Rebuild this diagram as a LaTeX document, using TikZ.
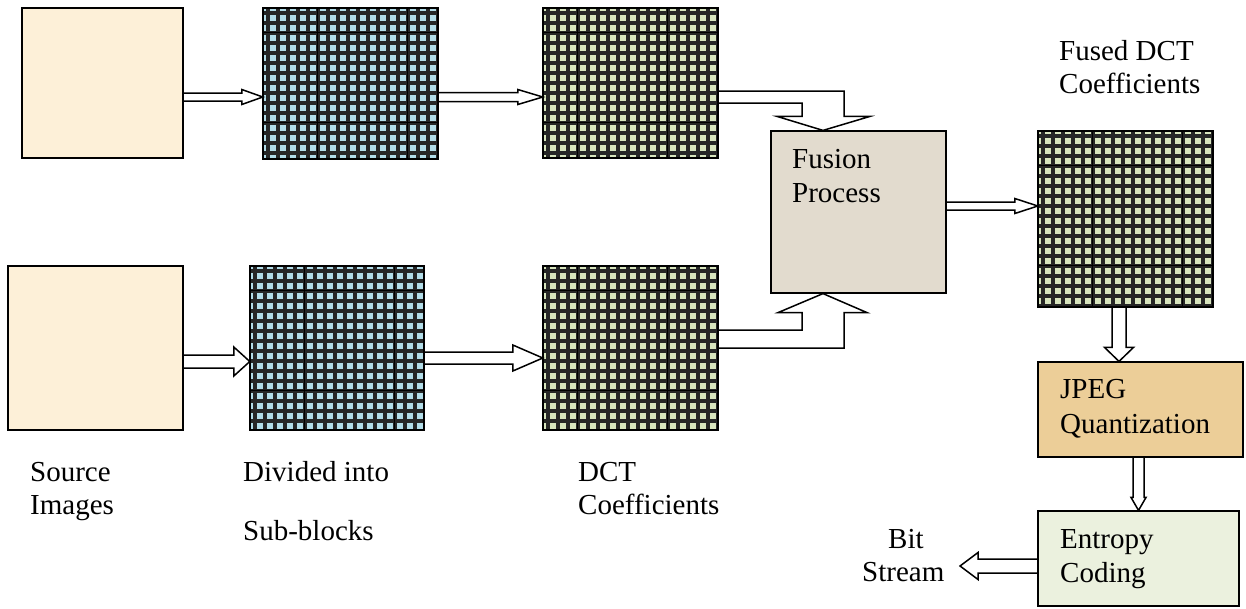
\documentclass[tikz,border=0pt]{standalone}
\usepackage{fontspec}
\setmainfont{Liberation Serif}
\usetikzlibrary{calc}
\definecolor{cream}{RGB}{253,240,216}
\definecolor{cellblue}{RGB}{178,220,232}
\definecolor{cellgreen}{RGB}{216,229,190}
\definecolor{fusefill}{RGB}{226,219,206}
\definecolor{jpegfill}{RGB}{236,206,152}
\definecolor{entfill}{RGB}{235,241,222}
\newcommand\gridlines[3]{%
  \begin{scope}
    \clip (#1.north west) rectangle (#1.south east);
    \foreach \i in {0,...,#2}
      \draw[gridline] ($(#1.north west)+(10*\i-5,0)$) -- ++(0,200);
    \foreach \i in {0,...,#3}
      \draw[gridline] ($(#1.north west)+(0,10*\i-5)$) -- ++(220,0);
  \end{scope}}
\newcommand\majorlines[5]{%
  \draw[majorline] ($(#1.north west)+(#2,0)$) -- ($(#1.south west)+(#2,0)$);
  \draw[majorline] ($(#1.north west)+(#3,0)$) -- ($(#1.south west)+(#3,0)$);
  \draw[majorline] ($(#1.north west)+(0,#4)$) -- ($(#1.north east)+(0,#4)$);
  \draw[majorline] ($(#1.north west)+(0,#5)$) -- ($(#1.north east)+(0,#5)$);
  \draw[boxline] (#1.north west) rectangle (#1.south east);}
\newcommand\harrowR[5]{%
  \draw[hollow] let \p1=(#1), \p2=(#2) in
    (\x1,\y1+#3) -- (\x2-#5,\y1+#3) -- (\x2-#5,\y1+#4) -- (\x2,\y1)
    -- (\x2-#5,\y1-#4) -- (\x2-#5,\y1-#3) -- (\x1,\y1-#3);}
\newcommand\harrowL[5]{%
  \draw[hollow] let \p1=(#1), \p2=(#2) in
    (\x1,\y1+#3) -- (\x2+#5,\y1+#3) -- (\x2+#5,\y1+#4) -- (\x2,\y1)
    -- (\x2+#5,\y1-#4) -- (\x2+#5,\y1-#3) -- (\x1,\y1-#3);}
\newcommand\harrowD[5]{%
  \draw[hollow] let \p1=(#1), \p2=(#2) in
    (\x1+#3,\y1) -- (\x1+#3,\y2+#5) -- (\x1+#4,\y2+#5) -- (\x1,\y2)
    -- (\x1-#4,\y2+#5) -- (\x1-#3,\y2+#5) -- (\x1-#3,\y1);}
\begin{document}
\begin{tikzpicture}[x=1pt,y=-1pt,
  box/.style={draw=black, line width=1.2pt, inner sep=0pt},
  gridbox/.style={inner sep=0pt},
  gridline/.style={draw=black!85, line width=4.5pt},
  majorline/.style={draw=black, line width=1.2pt},
  boxline/.style={draw=black, line width=1.8pt},
  hollow/.style={draw=black, line width=1.5pt, line join=miter},
  lbl/.style={inner sep=0pt, anchor=base west, font=\fontsize{29}{33}\selectfont}]
\useasboundingbox[fill=white] (0,0) rectangle (1246,608);

% source images
\node[box, fill=cream, minimum width=161pt, minimum height=150pt] (src1) at (102.5,83) {};
\node[box, fill=cream, minimum width=175pt, minimum height=164pt] (src2) at (95.5,348) {};

% sub-block grids
\node[gridbox, fill=cellblue, minimum width=175pt, minimum height=151pt] (blk1) at (350.5,83.5) {};
\gridlines{blk1}{19}{17}
\majorlines{blk1}{55}{145}{25}{115}
\node[gridbox, fill=cellblue, minimum width=174pt, minimum height=164pt] (blk2) at (337,348) {};
\gridlines{blk2}{19}{18}
\majorlines{blk2}{55}{145}{25}{125}

% DCT grids
\node[gridbox, fill=cellgreen, minimum width=175pt, minimum height=150pt] (dct1) at (630.5,83) {};
\gridlines{dct1}{19}{17}
\majorlines{dct1}{35}{125}{25}{115}
\node[gridbox, fill=cellgreen, minimum width=175pt, minimum height=164pt] (dct2) at (630.5,348) {};
\gridlines{dct2}{19}{18}
\majorlines{dct2}{35}{125}{25}{125}

% fusion
\node[box, fill=fusefill, minimum width=175pt, minimum height=162pt] (fusion) at (858.5,212) {};

% fused grid
\node[gridbox, fill=cellgreen, minimum width=175pt, minimum height=176pt] (fused) at (1125.5,219) {};
\gridlines{fused}{19}{19}
\majorlines{fused}{55}{145}{35}{135}

% JPEG and entropy
\node[box, fill=jpegfill, minimum width=205pt, minimum height=95pt] (jpeg) at (1140.5,409.5) {};
\node[box, fill=entfill, minimum width=201pt, minimum height=95pt] (entropy) at (1138.5,558.5) {};
\coordinate (bitend) at (960,566);

% arrows
\harrowR{[yshift=-14pt]src1.east}{blk1.west}{4pt}{7.5pt}{21pt}
\harrowR{[yshift=-13.5pt]src2.east}{blk2.west}{6.5pt}{14.5pt}{16pt}
\harrowR{[yshift=-13.5pt]blk1.east}{dct1.west}{4.5pt}{7.5pt}{25pt}
\harrowR{[yshift=-10pt]blk2.east}{dct2.west}{6pt}{13pt}{30pt}
\harrowR{[yshift=6pt]fusion.east}{fused.west}{4pt}{7.5pt}{23pt}
\harrowD{[xshift=-6.5pt]fused.south}{jpeg.north}{7pt}{14.5pt}{14pt}
\harrowD{[xshift=-2pt]jpeg.south}{entropy.north}{5.5pt}{7.5pt}{13pt}
\harrowL{[yshift=-7.5pt]entropy.west}{bitend}{7pt}{13.5pt}{18pt}

\draw[hollow] let \p1=(dct1.east), \p2=([xshift=-35.5pt]fusion.north) in
  (\x1,\y1-8pt) -- (\x2+21pt,\y1-8pt) -- (\x2+21pt,\y2+14pt) -- (\x2+47pt,\y2+14pt)
  -- (\x2,\y2) -- (\x2-46pt,\y2+14pt) -- (\x2-21pt,\y2+14pt) -- (\x2-21pt,\y1-20pt)
  -- (\x1,\y1-20pt);
\draw[hollow] let \p1=(dct2.east), \p2=([xshift=-35.5pt]fusion.south) in
  (\x1,\y1) -- (\x2+21pt,\y1) -- (\x2+21pt,\y2-19pt) -- (\x2+44pt,\y2-19pt)
  -- (\x2,\y2) -- (\x2-45pt,\y2-19pt) -- (\x2-21pt,\y2-19pt) -- (\x2-21pt,\y1+18pt)
  -- (\x1,\y1+18pt);

% labels
\node[lbl] (l1a) at (30,481) {Source};
\node[lbl] (l1b) at (30,514) {Images};
\node[lbl] (l2a) at (243,481) {Divided into};
\node[lbl] (l2b) at (243,540) {Sub-blocks};
\node[lbl] (l3a) at (578,481) {DCT};
\node[lbl] (l3b) at (578,514) {Coefficients};
\node[lbl] (l4a) at (1059,60) {Fused DCT};
\node[lbl] (l4b) at (1059,93) {Coefficients};
\node[lbl] (l5a) at (792,168) {Fusion};
\node[lbl] (l5b) at (792,202) {Process};
\node[lbl] (l6a) at (1060,398) {JPEG};
\node[lbl] (l6b) at (1060,433) {Quantization};
\node[lbl] (l7a) at (1060,548) {Entropy};
\node[lbl] (l7b) at (1060,582) {Coding};
\node[lbl] (l8a) at (888,548) {Bit};
\node[lbl] (l8b) at (862,581) {Stream};
\end{tikzpicture}
\end{document}
